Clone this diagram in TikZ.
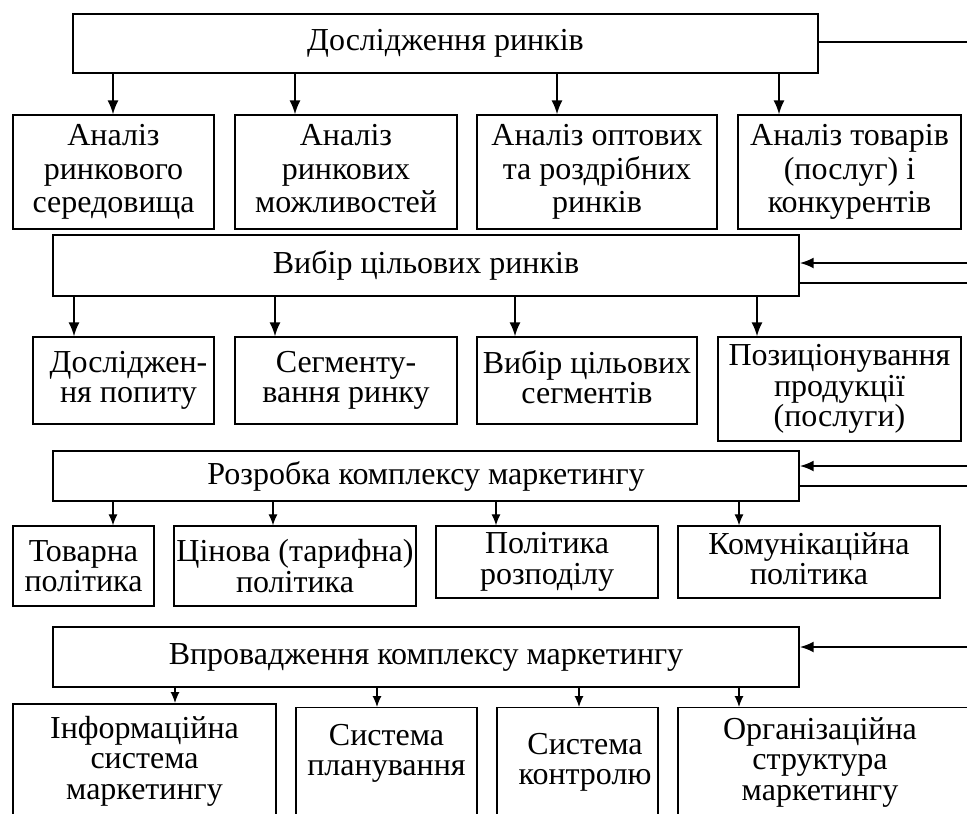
\documentclass[tikz,border=0pt]{standalone}
\usepackage{fontspec}
\setmainfont{Liberation Serif}
\usetikzlibrary{arrows.meta,positioning}

\tikzset{
  box/.style={draw, line width=1.3pt, inner sep=0pt, align=center,
    font=\fontsize{32}{30.5}\selectfont},
  tall/.style={box, minimum height=114pt, font=\fontsize{32}{33.5}\selectfont},
  lvl/.style={box, minimum width=746pt},
  txt/.style={inner sep=0pt, align=center, font=\fontsize{32}{30.5}\selectfont},
  arr/.style={-{Latex[length=14pt,width=11pt]}, line width=1.7pt},
  arrs/.style={-{Latex[length=11pt,width=9pt]}, line width=1.2pt},
  arrin/.style={-{Latex[length=14pt,width=11pt]}, line width=2.4pt},
}

\begin{document}
\begin{tikzpicture}[x=1pt, y=-1pt]
\useasboundingbox (0,0) rectangle (967,814);
\clip (0,0) rectangle (967,814);

% етап 1
\node[lvl, minimum width=745pt, minimum height=59pt, line width=1.8pt] (L1) at (445.5,43.5) {Дослідження ринків};
\node[tall, minimum width=201pt] (a1) at (113.5,172) {Аналіз\\ринкового\\середовища};
\node[tall, minimum width=222pt] (a2) at (346,172) {Аналіз\\ринкових\\можливостей\vphantom{р}};
\node[tall, minimum width=240pt] (a3) at (597,172) {Аналіз оптових\\та роздрібних\\ринків};
\node[tall, minimum width=223pt] (a4) at (849.5,172) {Аналіз товарів\\(послуг) і\\конкурентів};

% етап 2
\node[lvl, minimum height=61pt] (L2) at (426,265.5) {Вибір цільових ринків};
\node[box, minimum width=181pt, minimum height=87pt] (b1) at (123.5,380.5) {\hspace*{10pt}Досліджен-\\\hspace*{10pt}ня попиту};
\node[box, minimum width=222pt, minimum height=87pt] (b2) at (346,380.5) {Сегменту-\\вання ринку};
\node[box, minimum width=220pt, minimum height=87pt] (b3) at (587,380.5) {Вибір цільових\\сегментів\vphantom{р}};
\node[box, minimum width=243pt, minimum height=104pt] (b4) at (839.5,389) {Позиціонування\\продукції\\(послуги)};

% етап 3
\node[lvl, minimum height=50pt] (L3) at (426,476) {Розробка комплексу маркетингу};
\node[box, minimum width=141pt, minimum height=80pt] (c1) at (83.5,566) {Товарна\\політика};
\node[box, minimum width=242pt, minimum height=80pt] (c2) at (295,566) {Цінова (тарифна)\\політика};
\node[box, minimum width=222pt, minimum height=72pt] (c3) at (547,562) {Політика\\розподілу};
\node[box, minimum width=262pt, minimum height=72pt] (c4) at (809,562) {Комунікаційна\\політика\vphantom{р}};

% етап 4
\node[lvl, minimum height=60pt] (L4) at (426,657) {Впровадження комплексу маркетингу};
\node[box, minimum width=263pt, minimum height=160pt, anchor=north, line width=2.4pt] (d1) at (144.5,703) {};
\node[box, minimum width=181pt, minimum height=160pt, anchor=north] (d2) at (386.5,707) {};
\node[box, minimum width=161pt, minimum height=160pt, anchor=north] (d3) at (577.5,707) {};
\node[box, minimum width=330pt, minimum height=160pt, anchor=north] (d4) at (843,707) {};
\node[txt, below=13pt of d1.north] (t1) {Інформаційна\\система\\маркетингу};
\node[txt, below=17pt of d2.north] (t2) {Система\\планування};
\node[txt, anchor=north] (t3) at (585,733) {Система\\контролю};
\node[txt, anchor=north] (t4) at (820,717) {Організаційна\\структура\\маркетингу};

% зв'язки вниз
\foreach \n/\x in {a1/113,a2/295,a3/557,a4/779}
  \draw[arr] (\x,0 |- L1.south) -- (\x,0 |- \n.north);
\foreach \n/\x in {b1/74,b2/275,b3/515,b4/757}
  \draw[arr] (\x,0 |- L2.south) -- (\x,0 |- \n.north);
\foreach \n/\x in {c1/113,c2/273,c3/496,c4/739}
  \draw[arrs] (\x,0 |- L3.south) -- (\x,0 |- \n.north);
\foreach \n/\x in {d1/175,d2/377,d3/579,d4/739}
  \draw[arrs] (\x,0 |- L4.south) -- (\x,0 |- \n.north);

% зворотні зв'язки справа
\coordinate (e1) at (967,42);
\coordinate (e2) at (967,263);
\coordinate (e3) at (967,283);
\coordinate (e4) at (967,466);
\coordinate (e5) at (967,486);
\coordinate (e6) at (967,647);
\draw[line width=1.6pt] (L1.east |- e1) -- (e1);
\draw[arrin] (e2) -- (L2.east |- e2);
\draw[line width=1.4pt] (L2.east |- e3) -- (e3);
\draw[arrin] (e4) -- (L3.east |- e4);
\draw[line width=1.4pt] (L3.east |- e5) -- (e5);
\draw[arrin] (e6) -- (L4.east |- e6);
\end{tikzpicture}
\end{document}
